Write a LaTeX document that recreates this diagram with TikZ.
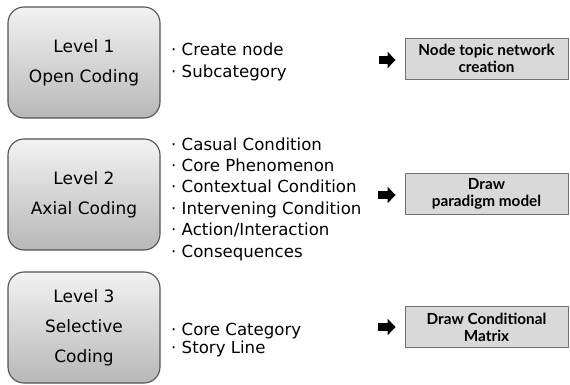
\documentclass[tikz,border=0pt]{standalone}
\usepackage{fontspec}
\setmainfont{DejaVu Sans}
\newfontfamily\resfont{Lato}
\usetikzlibrary{arrows.meta,positioning}

\tikzset{
  level/.style={draw=black!68, line width=1.1pt, rounded corners=16pt,
    top color=black!5, bottom color=black!28, minimum width=152pt, minimum height=111pt,
    align=center, font=\fontsize{17}{30}\selectfont, inner sep=0pt},
  items/.style={anchor=west, align=left, font=\fontsize{16.6}{21.4}\selectfont, inner sep=0pt},
  result/.style={draw=black!55, fill=black!15, line width=0.8pt, minimum width=163pt,
    minimum height=41pt, align=center, inner sep=0pt,
    font=\resfont\bfseries\fontsize{15.3}{17}\selectfont},
  blk/.style={line width=8pt, -{Triangle[length=8pt,width=16pt]}, shorten >=9pt}
}

\begin{document}
\begin{tikzpicture}[x=1pt,y=-1pt]
  \useasboundingbox (0,0) rectangle (570,385);

  \node[level] (l1) at (84,62.5) {Level 1\\Open Coding};
  \node[level] (l2) at (84,194.5) {Level 2\\Axial Coding};
  \node[level] (l3) at (84,327.5) {Level 3\\Selective\\Coding};

  \node[items] (i1) at (171,62) {· Create node\\· Subcategory};
  \node[items] (i2) at (171,199) {· Casual Condition\\· Core Phenomenon\\· Contextual Condition\\· Intervening Condition\\· Action/Interaction\\· Consequences};
  \node[items, font=\fontsize{16.6}{18.5}\selectfont] (i3) at (171,340) {· Core Category\\· Story Line};

  \node[result] (r1) at (486.5,58.5) {Node topic network\\creation};
  \node[result] (r2) at (486.5,193.5) {Draw\\paradigm model};
  \node[result] (r3) at (486.5,327) {Draw Conditional\\Matrix};

  \coordinate (a1) at (379,60);
  \coordinate (a2) at (378,195);
  \coordinate (a3) at (378,327);
  \draw[blk] (a1) -- (a1 -| r1.west);
  \draw[blk] (a2) -- (a2 -| r2.west);
  \draw[blk] (a3) -- (a3 -| r3.west);
\end{tikzpicture}
\end{document}
